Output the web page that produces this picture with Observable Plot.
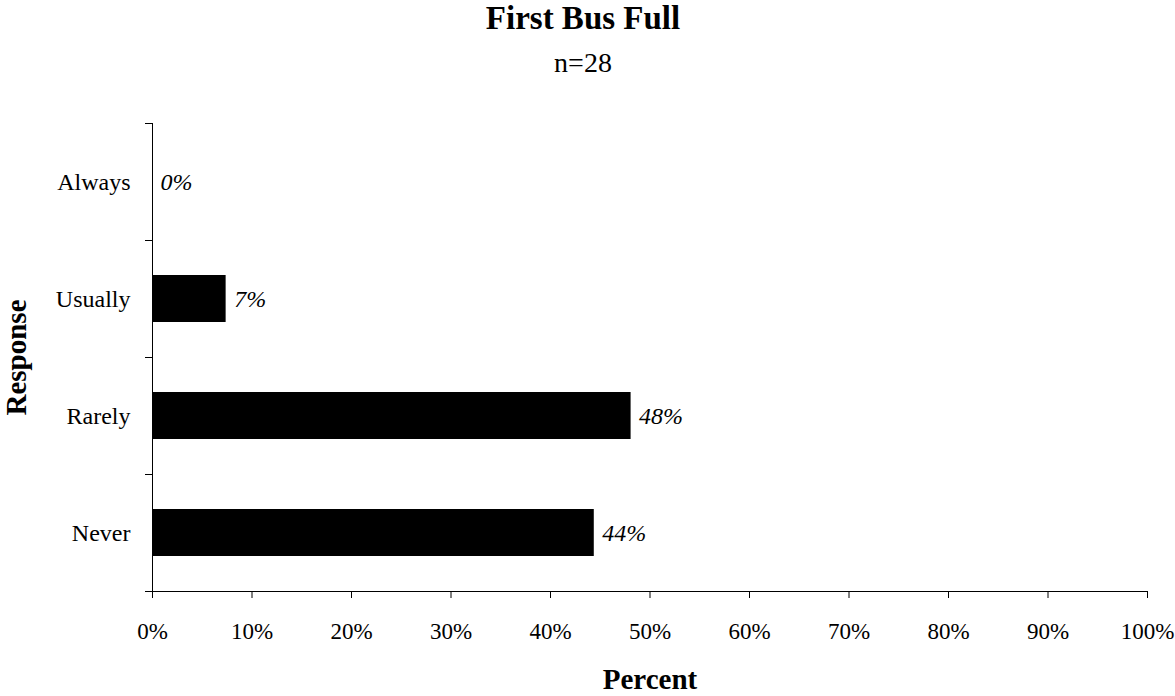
<!DOCTYPE html>
<html>
<head>
<meta charset="utf-8">
<script src="https://cdn.jsdelivr.net/npm/d3@7"></script>
<script src="https://cdn.jsdelivr.net/npm/@observablehq/plot@0.6"></script>
<style>
  html, body { margin: 0; padding: 0; background: #fff; }
  body { width: 1175px; height: 696px; overflow: hidden; font-family: "Liberation Serif", "Times New Roman", serif; color: #000; }
  #header { height: 80px; padding-right: 9px; padding-top: 2px; box-sizing: border-box; text-align: center; }
  #title { font-size: 33px; line-height: 33px; font-weight: bold; }
  #subtitle { font-size: 28px; line-height: 28px; margin-top: 14px; }
  #chart svg { display: block; }
</style>
</head>
<body>
<div id="header">
  <div id="title">First Bus Full</div>
  <div id="subtitle">n=28</div>
</div>
<div id="chart"></div>
<script>
const categories = ["Always", "Usually", "Rarely", "Never"];
const percents = [0, 7.4, 48.1, 44.4];
const xTicks = [0, 10, 20, 30, 40, 50, 60, 70, 80, 90, 100];
const xLabel = "Percent";
const yLabel = "Response";

const data = categories.map((c, i) => ({response: c, value: percents[i]}));

const W = 1175, H = 616;
const mTop = 43, mBottom = 105, mLeft = 152, mRight = 28;
const step = (H - mTop - mBottom) / categories.length;
const font = "Liberation Serif";
const pct = d => d + "%";

const chart = Plot.plot({
  width: W,
  height: H,
  marginTop: mTop,
  marginBottom: mBottom,
  marginLeft: mLeft,
  marginRight: mRight,
  style: {fontFamily: font, background: "#fff", color: "#000", overflow: "visible"},
  x: {domain: [0, 100], ticks: xTicks, tickFormat: pct},
  y: {domain: categories, paddingInner: 0.6, paddingOuter: 0.3},
  marks: [
    Plot.barX(data, {y: "response", x: "value", fill: "#000"}),
    Plot.text(data, {
      y: "response", x: "value", text: d => Math.round(d.value) + "%",
      textAnchor: "start", dx: 8, fontSize: 24, fontStyle: "italic", fill: "#000"
    }),
    // y-axis labels
    Plot.axisY({tickSize: 0, tickPadding: 22, fontSize: 24, label: null}),
    // category boundary ticks
    Plot.axisY({tickSize: 7, tickFormat: () => "", dy: -step / 2, label: null, stroke: "#000"}),
    Plot.axisY({ticks: [categories[categories.length - 1]], tickSize: 7, tickFormat: () => "", dy: step / 2, label: null, stroke: "#000"}),
    // x axis
    Plot.axisX({ticks: xTicks, tickFormat: pct, tickSize: 7, tickPadding: 24, fontSize: 23, label: null, stroke: "#000"}),
    Plot.ruleX([0], {stroke: "#000"}),
    Plot.frame({anchor: "bottom", stroke: "#000"}),
    // axis titles
    Plot.text([xLabel], {frameAnchor: "bottom", textAnchor: "middle", lineAnchor: "middle", dy: 88, fontSize: 29, fontWeight: "bold", text: d => d, fill: "#000"}),
    Plot.text([yLabel], {frameAnchor: "left", textAnchor: "middle", lineAnchor: "middle", dx: -136, rotate: -90, fontSize: 29, fontWeight: "bold", text: d => d, fill: "#000"})
  ]
});
document.getElementById("chart").appendChild(chart);
</script>
</body>
</html>
